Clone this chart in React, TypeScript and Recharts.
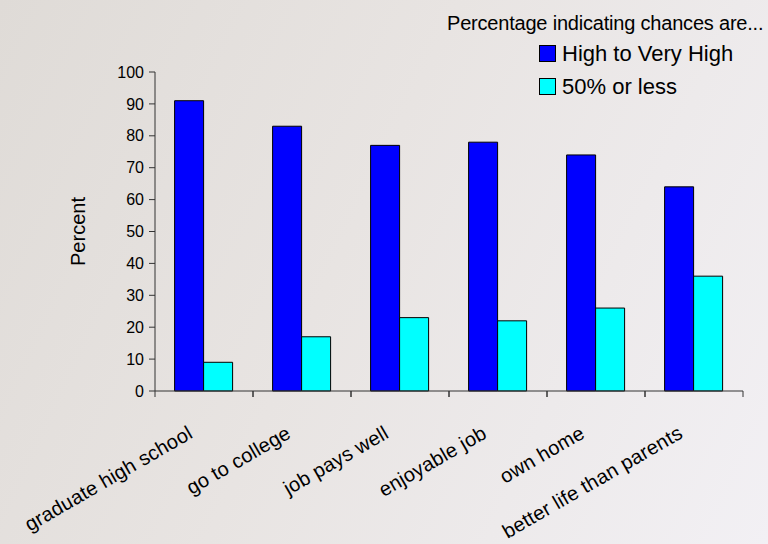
import React from 'react'
import { BarChart, Bar, XAxis, YAxis } from 'recharts'

const categories = [
  'graduate high school',
  'go to college',
  'job pays well',
  'enjoyable job',
  'own home',
  'better life than parents',
]
const highValues = [91, 83, 77, 78, 74, 64]
const lowValues = [9, 17, 23, 22, 26, 36]
const yTicks = [0, 10, 20, 30, 40, 50, 60, 70, 80, 90, 100]
const legendTitle = 'Percentage indicating chances are...'
const seriesNames = ['High to Very High', '50% or less']
const seriesColors = ['#0000FF', '#00FFFF']

const data = categories.map((name, i) => ({
  name,
  high: highValues[i],
  low: lowValues[i],
}))

const FONT = 'Liberation Sans, Arial, sans-serif'
const BAND = 98

// category label rotated, plus tick marks on the category boundaries
function CategoryTick(props: any) {
  const { x, y, payload } = props
  const tx = x - 10
  const ty = y + 38
  return (
    <g>
      <line x1={x - BAND / 2} y1={y - 8} x2={x - BAND / 2} y2={y - 2} stroke="#333" />
      <line x1={x + BAND / 2} y1={y - 8} x2={x + BAND / 2} y2={y - 2} stroke="#333" />
      <text
        x={tx}
        y={ty}
        textAnchor="end"
        fontSize={20}
        fontFamily={FONT}
        fill="#000"
        letterSpacing={0.2}
        transform={`rotate(-30, ${tx}, ${ty})`}
      >
        {payload.value}
      </text>
    </g>
  )
}

function LegendBox() {
  return (
    <div style={{ position: 'absolute', left: 447, top: 9, fontFamily: FONT, color: '#000' }}>
      <div style={{ fontSize: 20, letterSpacing: -0.2, lineHeight: '28px', whiteSpace: 'nowrap' }}>{legendTitle}</div>
      {seriesNames.map((label, i) => (
        <div key={label} style={{ display: 'flex', alignItems: 'center', marginLeft: 92, height: 33 }}>
          <span style={{ width: 15, height: 15, background: seriesColors[i], border: '1px solid #000', marginRight: 6 }} />
          <span style={{ fontSize: 22, whiteSpace: 'nowrap' }}>{label}</span>
        </div>
      ))}
    </div>
  )
}

export default function App() {
  return (
    <div
      style={{
        position: 'fixed',
        left: 0,
        top: 0,
        width: 768,
        height: 544,
        background: 'linear-gradient(115deg, #dfdbd7 0%, #e8e4e2 45%, #f2f0f4 100%)',
        overflow: 'hidden',
      }}
    >
      <BarChart
        width={768}
        height={544}
        data={data}
        margin={{ top: 72, right: 25, bottom: 0, left: 0 }}
        barCategoryGap="20%"
        barGap={0}
      >
        <XAxis
          dataKey="name"
          height={153}
          axisLine={{ stroke: '#333' }}
          tickLine={false}
          tick={<CategoryTick />}
          interval={0}
        />
        <YAxis
          width={155}
          domain={[0, 100]}
          ticks={yTicks}
          interval={0}
          axisLine={{ stroke: '#333' }}
          tickLine={{ stroke: '#333' }}
          tickSize={6}
          tickMargin={5}
          tick={{ fill: '#000', fontSize: 16, fontFamily: FONT }}
          label={{
            value: 'Percent',
            angle: -90,
            position: 'insideLeft',
            offset: 78,
            style: { fill: '#000', fontSize: 20, fontFamily: FONT, textAnchor: 'middle' },
          }}
        />
        <Bar dataKey="high" name={seriesNames[0]} fill={seriesColors[0]} stroke="#000" strokeWidth={1} isAnimationActive={false} />
        <Bar dataKey="low" name={seriesNames[1]} fill={seriesColors[1]} stroke="#000" strokeWidth={1} isAnimationActive={false} />
      </BarChart>
      <LegendBox />
    </div>
  )
}
